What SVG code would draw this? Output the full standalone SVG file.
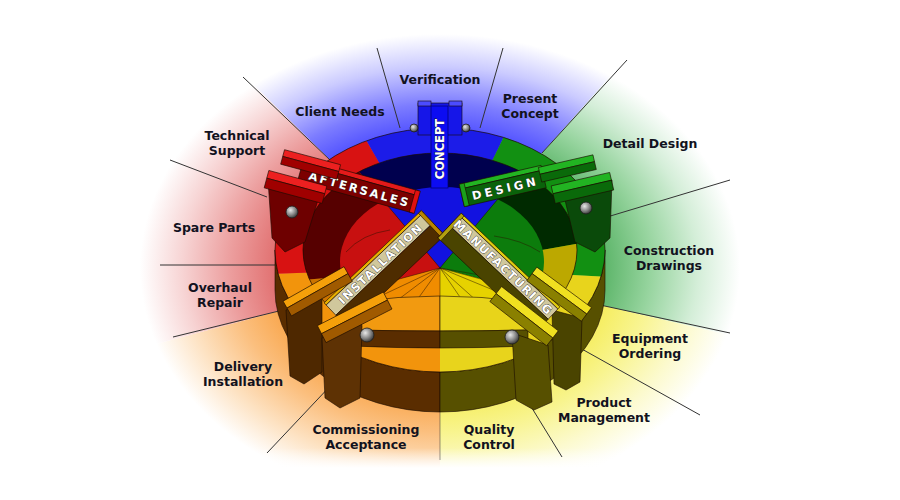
<svg xmlns="http://www.w3.org/2000/svg" width="900" height="500" viewBox="0 0 900 500">
<defs>
  <radialGradient id="gB" gradientUnits="userSpaceOnUse" cx="440" cy="268" r="300" gradientTransform="translate(440 268) scale(1 0.78) translate(-440 -268)">
    <stop offset="0.5" stop-color="#3434ff"/><stop offset="0.7" stop-color="#7c7cff"/><stop offset="0.86" stop-color="#cbcbff"/><stop offset="1" stop-color="#ffffff"/>
  </radialGradient>
  <radialGradient id="gR" gradientUnits="userSpaceOnUse" cx="440" cy="268" r="300" gradientTransform="translate(440 268) scale(1 0.78) translate(-440 -268)">
    <stop offset="0.5" stop-color="#de6262"/><stop offset="0.7" stop-color="#ec9e9e"/><stop offset="0.86" stop-color="#f7d4d4"/><stop offset="1" stop-color="#ffffff"/>
  </radialGradient>
  <radialGradient id="gO" gradientUnits="userSpaceOnUse" cx="440" cy="268" r="300" gradientTransform="translate(440 268) scale(1 0.78) translate(-440 -268)">
    <stop offset="0.5" stop-color="#f89c38"/><stop offset="0.7" stop-color="#fbbf7e"/><stop offset="0.86" stop-color="#fde2c2"/><stop offset="1" stop-color="#ffffff"/>
  </radialGradient>
  <radialGradient id="gY" gradientUnits="userSpaceOnUse" cx="440" cy="268" r="300" gradientTransform="translate(440 268) scale(1 0.78) translate(-440 -268)">
    <stop offset="0.5" stop-color="#f4ea48"/><stop offset="0.7" stop-color="#f8f48e"/><stop offset="0.86" stop-color="#fcface"/><stop offset="1" stop-color="#ffffff"/>
  </radialGradient>
  <radialGradient id="gG" gradientUnits="userSpaceOnUse" cx="440" cy="268" r="300" gradientTransform="translate(440 268) scale(1 0.78) translate(-440 -268)">
    <stop offset="0.5" stop-color="#4cac5a"/><stop offset="0.7" stop-color="#96d49e"/><stop offset="0.86" stop-color="#d4eed8"/><stop offset="1" stop-color="#ffffff"/>
  </radialGradient>
  <linearGradient id="gBottom" x1="0" y1="448" x2="0" y2="468" gradientUnits="userSpaceOnUse">
    <stop offset="0" stop-color="#fff" stop-opacity="0"/><stop offset="1" stop-color="#fff" stop-opacity="1"/>
  </linearGradient>
  <radialGradient id="gK" cx="0.38" cy="0.35" r="0.7">
    <stop offset="0" stop-color="#e8e8e8"/><stop offset="0.6" stop-color="#808080"/><stop offset="1" stop-color="#303030"/>
  </radialGradient>
  <clipPath id="cE0"><ellipse cx="440" cy="250" rx="165" ry="122"/></clipPath>
  <clipPath id="cE1"><ellipse cx="440" cy="250" rx="137" ry="97"/></clipPath>
  <clipPath id="cE2"><ellipse cx="442" cy="262" rx="102" ry="75"/></clipPath>
</defs>
<style>
  .lbl{font-family:"DejaVu Sans","Liberation Sans",sans-serif;font-weight:bold;font-size:12.5px;fill:#12121e;text-anchor:middle}
  .sep{stroke:#333333;stroke-width:1;fill:none}
  .arm{font-family:"DejaVu Sans","Liberation Sans",sans-serif;font-weight:bold;font-size:11.5px;fill:#ffffff;stroke:#222222;stroke-width:0.7;paint-order:stroke;text-anchor:middle}
  .knob{fill:url(#gK);stroke:#1e1e1e;stroke-width:0.8}
  .rl{stroke:#2a1500;stroke-width:0.7;stroke-opacity:0.7;fill:none}
  .ol{stroke:#1a0a00;stroke-width:0.6}
</style>

<g id="background">
  <rect x="0" y="0" width="900" height="500" fill="#ffffff"/>
  <polygon points="440,268 147,-20 696,-20" fill="url(#gB)"/>
  <polygon points="440,268 696,-20 920,-20 920,379" fill="url(#gG)"/>
  <polygon points="440,268 920,379 920,520 440,520" fill="url(#gY)"/>
  <polygon points="440,268 440,520 -20,520 -20,391" fill="url(#gO)"/>
  <polygon points="440,268 -20,391 -20,-20 147,-20" fill="url(#gR)"/>
  <rect x="0" y="448" width="900" height="20" fill="url(#gBottom)"/>
  <rect x="0" y="468" width="900" height="32" fill="#ffffff"/>
</g>

<g id="connectors">
  <line class="sep" x1="400" y1="128" x2="377" y2="48"/>
  <line class="sep" x1="480" y1="128" x2="503" y2="48"/>
  <line class="sep" x1="542" y1="153" x2="627" y2="60"/>
  <line class="sep" x1="607" y1="217" x2="730" y2="180"/>
  <line class="sep" x1="600" y1="305" x2="730" y2="333"/>
  <line class="sep" x1="580" y1="348" x2="700" y2="415"/>
  <line class="sep" x1="527" y1="400" x2="562" y2="457"/>
  <line class="sep" x1="440" y1="410" x2="440" y2="460" stroke-opacity="0.5"/>
  <line class="sep" x1="333" y1="383" x2="267" y2="453"/>
  <line class="sep" x1="283" y1="310" x2="173" y2="337"/>
  <line class="sep" x1="277" y1="265" x2="160" y2="265"/>
  <line class="sep" x1="267" y1="197" x2="170" y2="160"/>
  <line class="sep" x1="330" y1="160" x2="243" y2="77"/>
</g>

<g id="wheel">
  <path d="M275,250 L275,290 A165 122 0 0 0 440 412 L440 372 A165 122 0 0 1 275 250 Z" fill="#5a2d00" class="ol"/>
  <path d="M440,372 L440,412 A165 122 0 0 0 605 290 L605 250 A165 122 0 0 1 440 372 Z" fill="#575000" class="ol"/>
  <g clip-path="url(#cE0)">
    <polygon points="440,268 240,-78 440,-132 615,-92" fill="#1c1ce8"/>
    <polygon points="440,268 615,-92 840,-50 839,289" fill="#129012"/>
    <polygon points="440,268 839,289 723,551 440,668" fill="#e8d41c"/>
    <polygon points="440,268 440,668 157,551 40,282" fill="#f2940c"/>
    <polygon points="440,268 40,282 40,-50 240,-78" fill="#d81212"/>
  </g>
  <ellipse cx="440" cy="250" rx="165" ry="122" fill="none" stroke="#1a0a00" stroke-width="0.7"/>
  <g clip-path="url(#cE1)">
    <polygon points="440,268 183,-38 440,-132 697,-38" fill="#00004e"/>
    <polygon points="440,268 697,-38 834,198" fill="#002a00"/>
    <polygon points="440,268 834,198 840,500 440,668" fill="#bca800"/>
    <polygon points="440,268 440,668 40,500 42,303" fill="#cc7400"/>
    <polygon points="440,268 42,303 40,100 183,-38" fill="#560000"/>
  </g>
  <ellipse cx="440" cy="250" rx="137" ry="97" fill="none" stroke="#1a0a00" stroke-width="0.7"/>
  <g clip-path="url(#cE2)">
    <polygon points="440,268 183,-38 440,-132 697,-38" fill="#1212e0"/>
    <polygon points="440,268 697,-38 840,100 826,372" fill="#0c7c0c"/>
    <polygon points="440,268 826,372 723,551 440,668" fill="#e6d200"/>
    <polygon points="440,268 440,668 157,551 54,372" fill="#f08c00"/>
    <polygon points="440,268 54,372 40,100 183,-38" fill="#c81010"/>
    <path class="rl" d="M440,268 L183,-38 M440,268 L697,-38 M440,268 L826,372 M440,268 L54,372 M440,268 L395,302 M440,268 L417,300 M440,268 L372,300 M440,268 L462,300 M440,268 L478,302 M440,268 L498,292 M440,268 L508,280 M440,268 L440,320"/>
    <path class="rl" d="M346,252 Q362,234 390,230 M494,236 Q522,240 540,252"/>
  </g>
  <path d="M356,302 Q398,296 440,296 L440,331 Q398,331 352,330 Z" fill="#f29a10" class="ol"/>
  <path d="M352,330 Q398,331 440,331 L440,348 Q398,348 352,346 Z" fill="#5a2d00" class="ol"/>
  <path d="M524,302 Q482,296 440,296 L440,331 Q482,331 528,330 Z" fill="#e8d41a" class="ol"/>
  <path d="M528,330 Q482,331 440,331 L440,348 Q482,348 528,346 Z" fill="#575000" class="ol"/>
</g>

<g id="node-concept">
  <rect x="418" y="103" width="44" height="32" fill="#1616e8" class="ol"/>
  <rect x="418" y="101" width="13" height="5" fill="#4c4cff" class="ol"/>
  <rect x="449" y="101" width="13" height="5" fill="#4c4cff" class="ol"/>
  <rect x="431" y="106" width="17" height="82" fill="#0c0cf2" stroke="#00006a" stroke-width="0.7"/>
  <circle class="knob" cx="414" cy="128" r="4"/>
  <circle class="knob" cx="466" cy="128" r="4"/>
  <text class="arm" transform="translate(444 149) rotate(-90)" x="0" y="0" font-size="12.5">CONCEPT</text>
</g>

<g id="node-aftersales">
  <polygon points="268,180 300,186 318,200 305,242 285,252 272,238" fill="#6e0000" class="ol"/>
  <circle class="knob" cx="292" cy="212" r="6"/>
  <g transform="translate(360 188) rotate(15.5)">
    <rect x="-62" y="-13" width="120" height="5" fill="#e41a1a" class="ol"/>
    <rect x="-62" y="-8" width="120" height="18" fill="#7c0000" class="ol"/>
    <rect x="54" y="-13" width="5" height="23" fill="#e01010" class="ol"/>
    <text class="arm" x="0" y="5.5" letter-spacing="2.3">AFTERSALES</text>
  </g>
  <g transform="translate(311 163) rotate(15)">
    <rect x="-29" y="-6" width="58" height="7" fill="#ec2020" class="ol"/>
    <rect x="-29" y="1" width="58" height="8" fill="#a00000" class="ol"/>
  </g>
  <g transform="translate(296 185) rotate(15)">
    <rect x="-30" y="-7" width="60" height="8" fill="#ec2020" class="ol"/>
    <rect x="-30" y="1" width="60" height="10" fill="#a00000" class="ol"/>
  </g>
</g>

<g id="node-design">
  <polygon points="612,180 580,186 565,200 575,242 595,252 610,238" fill="#0a4a0a" class="ol"/>
  <circle class="knob" cx="586" cy="208" r="6"/>
  <g transform="translate(505 187) rotate(-13)">
    <rect x="-44" y="-13" width="84" height="5" fill="#22b422" class="ol"/>
    <rect x="-44" y="-8" width="84" height="18" fill="#0a620a" class="ol"/>
    <rect x="-44" y="-13" width="5" height="23" fill="#1aa01a" class="ol"/>
    <text class="arm" x="0" y="5.5" letter-spacing="3.2">DESIGN</text>
  </g>
  <g transform="translate(567 167) rotate(-13)">
    <rect x="-28" y="-6" width="56" height="7" fill="#22b422" class="ol"/>
    <rect x="-28" y="1" width="56" height="8" fill="#0a6a0a" class="ol"/>
  </g>
  <g transform="translate(582 186) rotate(-13)">
    <rect x="-30" y="-7" width="60" height="8" fill="#22b422" class="ol"/>
    <rect x="-30" y="1" width="60" height="10" fill="#0a6a0a" class="ol"/>
  </g>
</g>

<g id="node-installation">
  <polygon points="286,310 320,292 322,300 322,372 304,384 290,376" fill="#4e2800" class="ol"/>
  <polygon points="322,338 360,318 362,326 360,398 340,408 325,398" fill="#5e3204" class="ol"/>
  <g transform="translate(381 264) rotate(-43.5)">
    <rect x="-68" y="-11" width="134" height="3" fill="#e8b000" class="ol"/>
    <rect x="-68" y="-8" width="134" height="14" fill="#d0c79c" class="ol"/>
    <rect x="-68" y="6" width="134" height="17" fill="#4e2c00" class="ol"/>
    <rect x="62" y="-11" width="4" height="34" fill="#b88400" class="ol"/>
    <text class="arm" x="0" y="3.5" letter-spacing="1.6">INSTALLATION</text>
  </g>
  <g transform="translate(317 290) rotate(-29.5)">
    <rect x="-35" y="-7" width="70" height="8" fill="#f5a00a" class="ol"/>
    <rect x="-35" y="1" width="70" height="9" fill="#a05a00" class="ol"/>
  </g>
  <g transform="translate(354 316) rotate(-27)">
    <rect x="-37" y="-8" width="74" height="9" fill="#f5a00a" class="ol"/>
    <rect x="-37" y="1" width="74" height="10" fill="#a05a00" class="ol"/>
  </g>
  <circle class="knob" cx="367" cy="335" r="7"/>
</g>

<g id="node-manufacturing">
  <polygon points="552,310 582,318 580,382 566,390 554,384" fill="#4a4400" class="ol"/>
  <polygon points="512,333 548,345 552,402 534,410 516,400" fill="#575000" class="ol"/>
  <g transform="translate(503 268) rotate(43.5)">
    <rect x="-68" y="-11" width="136" height="3" fill="#e0cc10" class="ol"/>
    <rect x="-68" y="-8" width="136" height="14" fill="#d0c79c" class="ol"/>
    <rect x="-68" y="6" width="136" height="17" fill="#4a4400" class="ol"/>
    <rect x="-68" y="-11" width="4" height="34" fill="#b0a010" class="ol"/>
    <text class="arm" x="0" y="3.5" letter-spacing="1.5">MANUFACTURING</text>
  </g>
  <g transform="translate(560 293) rotate(36.5)">
    <rect x="-34" y="-7" width="68" height="8" fill="#f0e020" class="ol"/>
    <rect x="-34" y="1" width="68" height="9" fill="#8a8000" class="ol"/>
  </g>
  <g transform="translate(525 315) rotate(38)">
    <rect x="-36" y="-8" width="72" height="9" fill="#f0e020" class="ol"/>
    <rect x="-36" y="1" width="72" height="10" fill="#8a8000" class="ol"/>
  </g>
  <circle class="knob" cx="512" cy="337" r="7"/>
</g>

<g id="node-verification"><text class="lbl" x="440" y="84">Verification</text></g>
<g id="node-client-needs"><text class="lbl" x="340" y="116">Client Needs</text></g>
<g id="node-present-concept"><text class="lbl" x="530" y="103">Present</text><text class="lbl" x="530" y="118">Concept</text></g>
<g id="node-detail-design"><text class="lbl" x="650" y="148">Detail Design</text></g>
<g id="node-construction-drawings"><text class="lbl" x="669" y="255">Construction</text><text class="lbl" x="669" y="270">Drawings</text></g>
<g id="node-equipment-ordering"><text class="lbl" x="650" y="343">Equipment</text><text class="lbl" x="650" y="358">Ordering</text></g>
<g id="node-product-management"><text class="lbl" x="604" y="407">Product</text><text class="lbl" x="604" y="422">Management</text></g>
<g id="node-quality-control"><text class="lbl" x="489" y="434">Quality</text><text class="lbl" x="489" y="449">Control</text></g>
<g id="node-commissioning-acceptance"><text class="lbl" x="366" y="434">Commissioning</text><text class="lbl" x="366" y="449">Acceptance</text></g>
<g id="node-delivery-installation"><text class="lbl" x="243" y="371">Delivery</text><text class="lbl" x="243" y="386">Installation</text></g>
<g id="node-overhaul-repair"><text class="lbl" x="220" y="292">Overhaul</text><text class="lbl" x="220" y="307">Repair</text></g>
<g id="node-spare-parts"><text class="lbl" x="214" y="232">Spare Parts</text></g>
<g id="node-technical-support"><text class="lbl" x="237" y="140">Technical</text><text class="lbl" x="237" y="155">Support</text></g>
</svg>
